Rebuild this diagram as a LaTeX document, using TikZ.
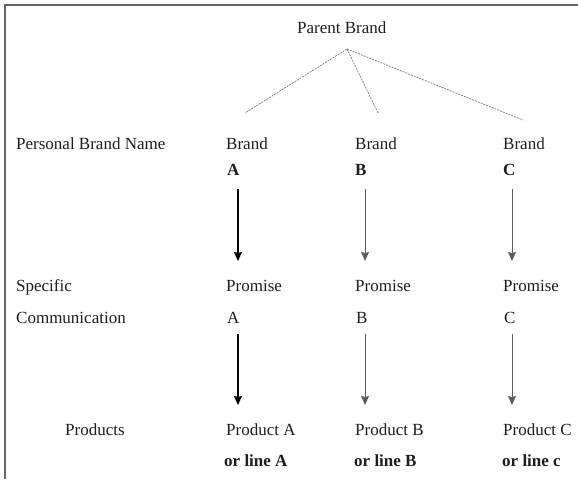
\documentclass[tikz,border=0pt]{standalone}
\usepackage{fontspec}
\setmainfont{Liberation Serif}
\usetikzlibrary{arrows.meta}
\definecolor{framegray}{HTML}{666666}
\definecolor{treegray}{HTML}{7A7A7A}
\definecolor{arrowgray}{HTML}{5E5E5E}
\definecolor{txt}{HTML}{1E1E1E}
\begin{document}
\begin{tikzpicture}[x=1pt,y=-1pt,
  lbl/.style={anchor=base west,inner sep=0pt,text=txt,font=\fontsize{17}{20}\selectfont},
  blbl/.style={lbl,font=\fontsize{17}{20}\selectfont\bfseries},
  treeline/.style={draw=treegray,line width=0.7pt,dash pattern=on 2pt off 1pt},
  arrA/.style={draw=black,line width=1.4pt,-{Stealth[length=9pt,width=8pt,inset=1pt]}},
  arrG/.style={draw=arrowgray,line width=1pt,-{Stealth[length=9pt,width=8pt,inset=1pt]}}]
\useasboundingbox (0,0) rectangle (578,479);
\fill[white] (0,0) rectangle (578,479);
\draw[framegray,line width=2pt] (5,479) -- (5,5) -- (578,5);
% texts
\node[lbl] (parent) at (297,33) {Parent Brand};
\node[lbl] (pbn) at (16,149) {Personal Brand Name};
\node[lbl] (brandA) at (226,149) {Brand};
\node[lbl] (brandB) at (355,149) {Brand};
\node[lbl] (brandC) at (503,149) {Brand};
\node[blbl] (bA) at (227,175) {A};
\node[blbl] (bB) at (355,175) {B};
\node[blbl] (bC) at (503,175) {C};
\node[lbl] (spec) at (16,291) {Specific};
\node[lbl] (comm) at (16,323) {Communication};
\node[lbl] (promA) at (226,291) {Promise};
\node[lbl] (promB) at (355,291) {Promise};
\node[lbl] (promC) at (503,291) {Promise};
\node[lbl] (pA) at (227,323) {A};
\node[lbl] (pB) at (356,323) {B};
\node[lbl] (pC) at (504,323) {C};
\node[lbl] (prods) at (65,435) {Products};
\node[lbl] (prodA) at (226,435) {Product A};
\node[lbl] (prodB) at (355,435) {Product B};
\node[lbl] (prodC) at (503,435) {Product C};
\node[blbl] (lineA) at (224,466) {or line A};
\node[blbl] (lineB) at (354,466) {or line B};
\node[blbl] (lineC) at (502,466) {or line c};
% tree
\coordinate (apex) at (347,49);
\coordinate (tA) at (245,113);
\coordinate (tB) at (378,113);
\coordinate (tC) at (523,120);
\draw[treeline] (apex) -- (tA);
\draw[treeline] (apex) -- (tB);
\draw[treeline] (apex) -- (tC);
% arrows
\coordinate (a1s) at (238,189); \coordinate (a1e) at (238,261);
\coordinate (b1s) at (365,189); \coordinate (b1e) at (365,261);
\coordinate (c1s) at (512,189); \coordinate (c1e) at (512,261);
\coordinate (a2s) at (238,334); \coordinate (a2e) at (238,405);
\coordinate (b2s) at (365,334); \coordinate (b2e) at (365,405);
\coordinate (c2s) at (512,334); \coordinate (c2e) at (512,405);
\draw[arrA] (a1s) -- (a1e);
\draw[arrG] (b1s) -- (b1e);
\draw[arrG] (c1s) -- (c1e);
\draw[arrA] (a2s) -- (a2e);
\draw[arrG] (b2s) -- (b2e);
\draw[arrG] (c2s) -- (c2e);
\end{tikzpicture}
\end{document}
